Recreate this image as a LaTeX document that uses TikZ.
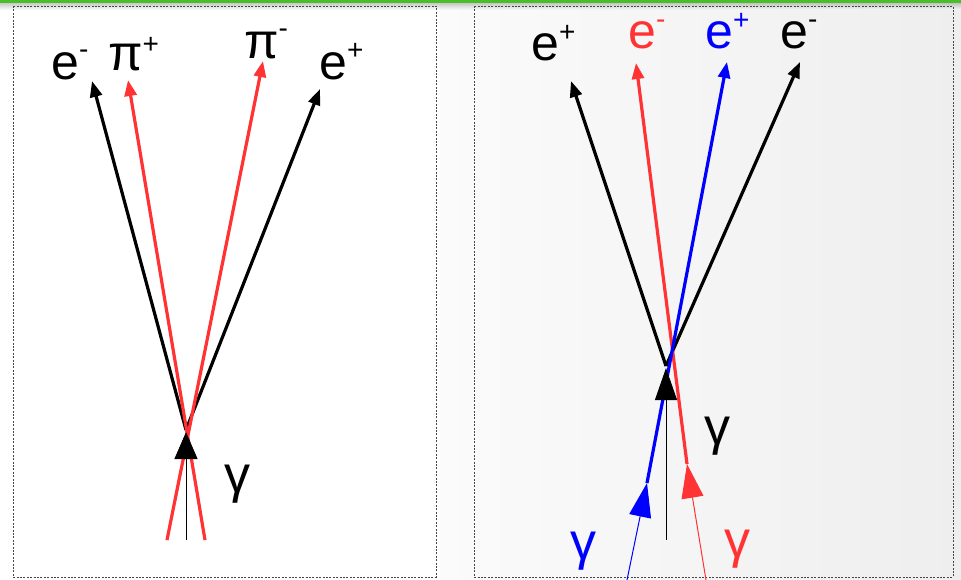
\documentclass[tikz,border=0pt]{standalone}
\usepackage{fontspec}
\setmainfont{Liberation Sans}
\usetikzlibrary{arrows.meta}
\definecolor{pred}{RGB}{255,51,51}
\definecolor{pblue}{RGB}{0,0,255}
\definecolor{pgreen}{RGB}{72,190,40}
\definecolor{boxgray}{RGB}{70,70,70}
\definecolor{bgleft}{RGB}{251,251,251}
\definecolor{bgright}{RGB}{238,238,238}
\newcommand\chg[3]{#1\raisebox{#3}{\fontsize{28}{30}\selectfont #2}}
\begin{document}
\begin{tikzpicture}[x=1pt,y=-1pt,
  big/.style={font=\fontsize{50}{56}\selectfont, inner sep=0pt, anchor=base west},
  gam/.style={font=\fontsize{52}{56}\selectfont, inner sep=0pt},
  thickline/.style={line width=3.2pt, -{Triangle[length=16pt,width=12pt]}},
  thinline/.style={line width=1pt},
  panel/.style={draw=boxgray, line width=0.9pt, dash pattern=on 2pt off 1.4pt}
]
\useasboundingbox (0,0) rectangle (961,580);
% background
\fill[white] (0,0) rectangle (961,580);
\shade[left color=bgleft, right color=bgright] (440,0) rectangle (961,580);
\shade[top color=black!35, bottom color=white, opacity=0.6] (0,3) rectangle (961,10);
\fill[pgreen] (0,0) rectangle (961,3);
% panels
\draw[panel] (13,6) rectangle (436,577);
\draw[panel] (474,6) rectangle (953,577);

% ---------- left panel ----------
\coordinate (Lv) at (186,430);
\coordinate (Lem) at (92,81);
\coordinate (Lpp) at (128,80);
\coordinate (Lpm) at (263,61);
\coordinate (Lep) at (320,89);
\coordinate (Lpp0) at (205,540);
\coordinate (Lpm0) at (167,540);
\coordinate (Lg0) at (186,540);
\coordinate (Lga) at (186,432);

\draw[thickline, black] (Lv) -- (Lem);
\draw[thickline, black] (Lv) -- (Lep);
\draw[thickline, pred] (Lpp0) -- (Lpp);
\draw[thickline, pred] (Lpm0) -- (Lpm);
\draw[thinline, black, -{Triangle[length=27pt,width=23pt]}] (Lg0) -- (Lga);

\node[big] (tLem) at (51,80) {\chg{e}{-}{21pt}};
\node[big] (tLpp) at (108,71) {\chg{π}{+}{17pt}};
\node[big] (tLpm) at (244,59) {\chg{π}{-}{21pt}};
\node[big] (tLep) at (319,80) {\chg{e}{+}{20pt}};
\node[gam] (tLg) at (237,484) {γ};

% ---------- right panel ----------
\coordinate (Rv) at (666,366);
\coordinate (Rep) at (571,81);
\coordinate (Rem) at (800,62);
\coordinate (Rr1) at (687,464);
\coordinate (Rrt) at (636,63);
\coordinate (Rr0) at (706,580);
\coordinate (Rb1) at (647,483);
\coordinate (Rbt) at (727,62);
\coordinate (Rb0) at (627,580);
\coordinate (Rg0) at (666,540);
\coordinate (Rga) at (666,368);

\draw[thickline, black] (Rv) -- (Rep);
\draw[thickline, black] (Rv) -- (Rem);
\draw[thickline, pred] (Rr1) -- (Rrt);
\draw[thickline, pblue] (Rb1) -- (Rbt);
\draw[thinline, pred, -{Triangle[length=34pt,width=22pt]}] (Rr0) -- (Rr1);
\draw[thinline, pblue, -{Triangle[length=34pt,width=22pt]}] (Rb0) -- (Rb1);
\draw[thinline, black, -{Triangle[length=32pt,width=22pt]}] (Rg0) -- (Rga);

\node[big] (tRep) at (531,61) {\chg{e}{+}{19pt}};
\node[big, text=pred] (tRem) at (628,49) {\chg{e}{-}{20pt}};
\node[big, text=pblue] (tRbp) at (705,49) {\chg{e}{+}{19pt}};
\node[big] (tRbm) at (780,49) {\chg{e}{-}{20pt}};
\node[gam] (tRg) at (717,436) {γ};
\node[gam, text=pblue] (tRgb) at (583,551) {γ};
\node[gam, text=pred] (tRgr) at (737,549) {γ};
\end{tikzpicture}
\end{document}
